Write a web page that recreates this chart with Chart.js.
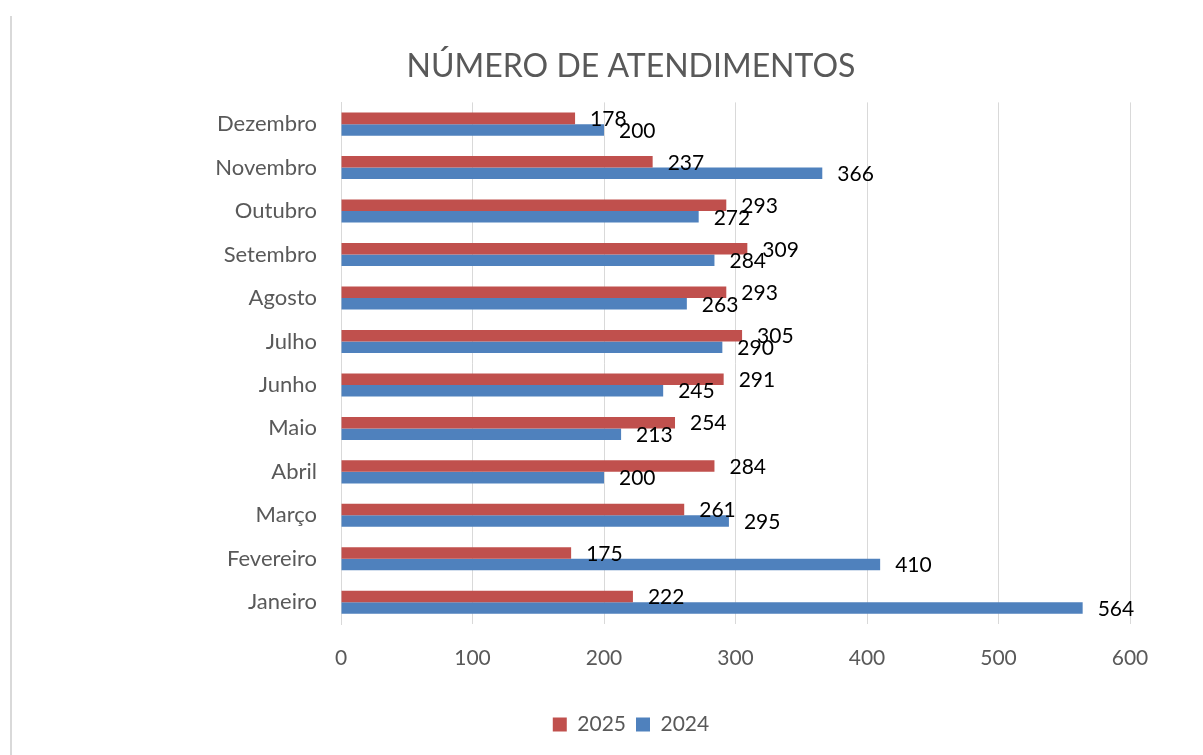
<!DOCTYPE html>
<html>
<head>
<meta charset="utf-8">
<script src="https://cdn.jsdelivr.net/npm/chart.js@4"></script>
<style>
  html, body { margin: 0; padding: 0; background: #fff; }
  #wrap { width: 1203px; height: 755px; }
</style>
</head>
<body>
<div id="wrap"><canvas id="grafico" width="1203" height="755"></canvas></div>
<script>
// dados
const meses = ['Janeiro', 'Fevereiro', 'Março', 'Abril', 'Maio', 'Junho', 'Julho', 'Agosto', 'Setembro', 'Outubro', 'Novembro', 'Dezembro'];
const valores2025 = [222, 175, 261, 284, 254, 291, 305, 293, 309, 293, 237, 178];
const valores2024 = [564, 410, 295, 200, 213, 245, 290, 263, 284, 272, 366, 200];
const ticksX = [0, 100, 200, 300, 400, 500, 600];

const FONTE = 'Lato, "Open Sans", sans-serif';
const CINZA = '#595959';

// rótulos de dados no fim das barras
const rotulos = {
  id: 'rotulos',
  afterDatasetsDraw(chart) {
    const ctx = chart.ctx;
    ctx.save();
    ctx.font = '21px ' + FONTE;
    ctx.fillStyle = '#000';
    ctx.textAlign = 'left';
    ctx.textBaseline = 'middle';
    chart.data.datasets.forEach((ds, i) => {
      chart.getDatasetMeta(i).data.forEach((bar, j) => {
        ctx.fillText(String(ds.data[j]), bar.x + 15, bar.y + 1);
      });
    });
    ctx.restore();
  }
};

// borda esquerda do gráfico
const borda = {
  id: 'borda',
  beforeDraw(chart) {
    const ctx = chart.ctx;
    ctx.save();
    ctx.fillStyle = '#fff';
    ctx.fillRect(0, 0, chart.width, chart.height);
    ctx.strokeStyle = '#D9D9D9';
    ctx.lineWidth = 2;
    ctx.beginPath();
    ctx.moveTo(11, 16);
    ctx.lineTo(11, chart.height);
    ctx.stroke();
    ctx.restore();
  }
};

const ctx = document.getElementById('grafico').getContext('2d');
new Chart(ctx, {
  type: 'bar',
  data: {
    labels: meses,
    datasets: [
      { label: '2025', data: valores2025, backgroundColor: '#C0504D' },
      { label: '2024', data: valores2024, backgroundColor: '#4F81BD' }
    ]
  },
  options: {
    indexAxis: 'y',
    responsive: false,
    animation: false,
    layout: { padding: { left: 132, right: 73, top: 0, bottom: 10 } },
    datasets: { bar: { categoryPercentage: 0.53, barPercentage: 1.0 } },
    scales: {
      x: {
        min: 0,
        max: 600,
        afterBuildTicks: s => { s.ticks = ticksX.map(v => ({ value: v })); },
        afterFit: s => { s.height = 80; },
        grid: { color: '#D9D9D9', drawTicks: false },
        border: { display: false },
        ticks: { color: CINZA, font: { family: FONTE, size: 21 }, padding: 22 }
      },
      y: {
        reverse: true,
        afterFit: s => { s.width = 209; },
        grid: { display: false, drawTicks: false },
        border: { display: true, color: '#D9D9D9' },
        ticks: { color: CINZA, font: { family: FONTE, size: 22 }, padding: 24 }
      }
    },
    plugins: {
      title: {
        display: true,
        text: 'NÚMERO DE ATENDIMENTOS',
        color: CINZA,
        font: { family: FONTE, size: 32, weight: 'normal' },
        padding: { top: 47, bottom: 17 }
      },
      legend: {
        position: 'bottom',
        labels: {
          color: CINZA,
          font: { family: FONTE, size: 21 },
          boxWidth: 14,
          boxHeight: 14,
          padding: 10
        }
      },
      tooltip: { enabled: false }
    }
  },
  plugins: [borda, rotulos]
});
</script>
</body>
</html>
